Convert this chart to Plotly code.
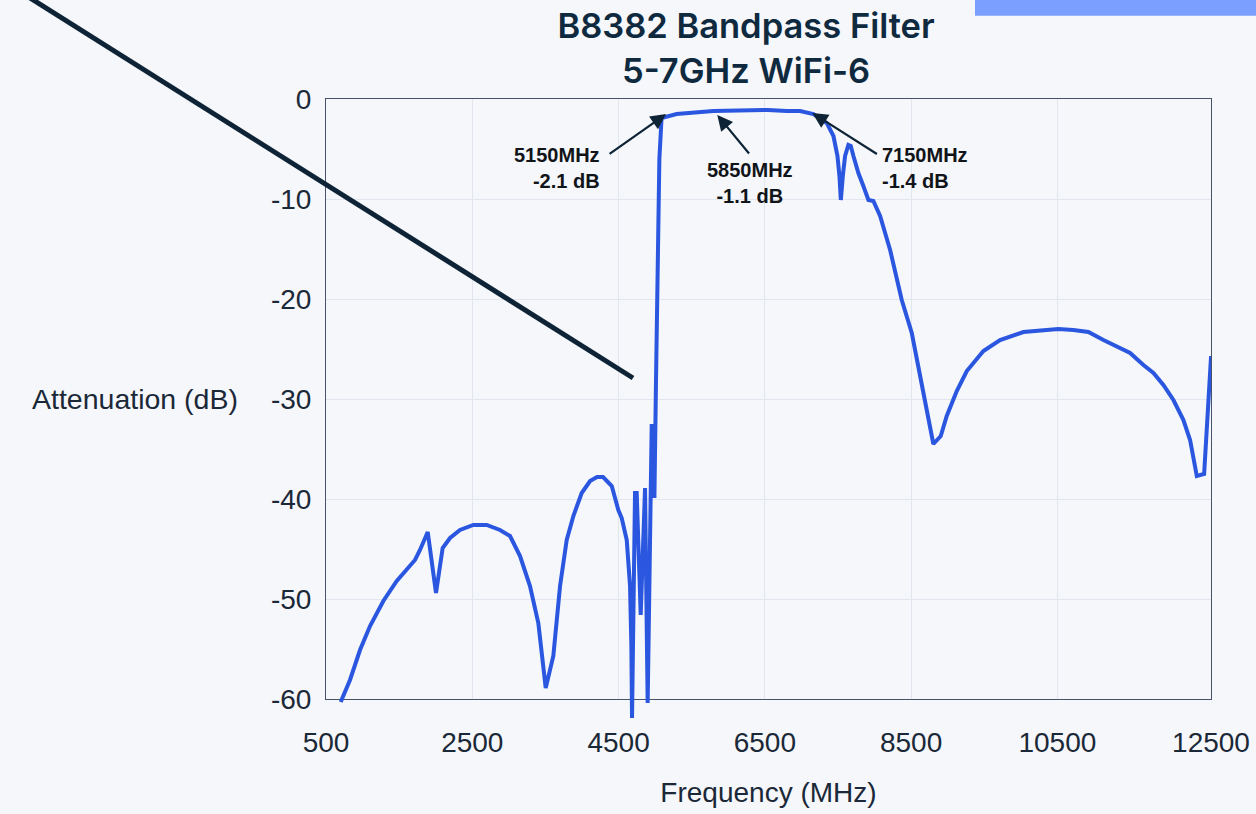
import plotly.graph_objects as go

# ---- data ----
FREQ_MHZ = [701, 828, 965, 1102, 1284, 1467, 1717, 1785, 1891, 2004, 2095, 2196, 2332, 2514,
            2697, 2879, 3016, 3153, 3289, 3403, 3504, 3608, 3700, 3791, 3882, 3996, 4110,
            4206, 4288, 4407, 4497, 4543, 4612, 4657, 4675, 4684, 4725, 4748, 4803, 4862,
            4898, 4953, 4976, 4990, 5012, 5040, 5058, 5088, 5293, 5796, 6296, 6540, 6800,
            6982, 7164, 7347, 7438, 7493, 7520, 7539, 7566, 7597, 7642, 7675, 7711, 7779,
            7847, 7916, 7984, 8076, 8213, 8372, 8509, 8646, 8804, 8905, 8987, 9124, 9261,
            9488, 9716, 10035, 10286, 10513, 10718, 10924, 11129, 11312, 11494, 11676,
            11813, 11949, 12086, 12223, 12314, 12406, 12506, 12601]
ATTEN_DB = [-60.3, -58.1, -55.1, -52.7, -50.2, -48.2, -46.1, -45.1, -43.3, -49.4, -44.9,
            -43.9, -43.1, -42.6, -42.6, -43.1, -43.7, -45.7, -48.7, -52.4, -58.9, -55.7,
            -48.7, -44.1, -41.7, -39.4, -38.2, -37.8, -37.8, -38.7, -41.1, -41.9, -44.1,
            -48.7, -54.7, -61.9, -39.4, -39.4, -51.6, -38.9, -60.4, -32.7, -32.7, -39.9,
            -28.1, -15.0, -6.0, -1.9, -1.5, -1.2, -1.1, -1.1, -1.2, -1.2, -1.5, -2.4, -3.7,
            -5.7, -7.7, -10.1, -7.7, -5.7, -4.6, -4.7, -5.7, -7.4, -8.7, -10.1, -10.2,
            -11.7, -15.1, -20.1, -23.4, -28.4, -34.5, -33.7, -31.7, -29.2, -27.2, -25.2,
            -24.1, -23.3, -23.1, -23.0, -23.1, -23.3, -24.1, -24.7, -25.4, -26.6, -27.4,
            -28.6, -30.1, -32.1, -34.1, -37.7, -37.5, -25.7]

X_TICK_VALS = [500, 2500, 4500, 6500, 8500, 10500, 12600]
X_TICK_TEXT = ["500", "2500", "4500", "6500", "8500", "10500", "12500"]
Y_TICK_VALS = [-60, -50, -40, -30, -20, -10, 0]
Y_TICK_TEXT = ["-60", "-50", "-40", "-30", "-20", "-10", "0"]

MARK_FREQ = [5150, 5850, 7150]
MARK_TIP_DB = [-1.5, -1.6, -1.4]
MARK_LABEL = ["5150MHz<br>-2.1 dB", "5850MHz<br>-1.1 dB", "7150MHz<br>-1.4 dB"]

TITLE = "B8382 Bandpass Filter<br>5-7GHz WiFi-6"
X_TITLE = "Frequency (MHz)"
Y_TITLE = "Attenuation (dB)"

# ---- style ----
BG = "#F5F7FA"
GRID = "#E2E6EE"
FRAME = "#46536A"
LINE = "#2A56E0"
NAVY = "#0E2436"
TXT = "#1B2838"
FONT = "Liberation Sans, Arial, sans-serif"

fig = go.Figure()
fig.add_trace(go.Scatter(x=FREQ_MHZ, y=ATTEN_DB, mode="lines",
                         line=dict(color=LINE, width=4),
                         xaxis="x2", yaxis="y2", showlegend=False, hoverinfo="x+y"))

# arrows + labels
arrow_off = [(-58, 41), (33, 40), (66, 42)]
text_shift = [(-64, -54), (33, -68), (68, -55)]
text_anchor = ["right", "center", "left"]
for f, d, lab, (ax, ay), (sx, sy), anc in zip(MARK_FREQ, MARK_TIP_DB, MARK_LABEL,
                                               arrow_off, text_shift, text_anchor):
    fig.add_annotation(x=f, y=d, xref="x", yref="y", text="", showarrow=True,
                       ax=ax, ay=ay, arrowhead=2, arrowsize=1.4, arrowwidth=2.2,
                       arrowcolor=NAVY)
    fig.add_annotation(x=f, y=d, xref="x", yref="y", text=lab, showarrow=False,
                       xshift=sx, yshift=sy, xanchor=anc, yanchor="middle", align=anc,
                       font=dict(family=FONT, size=20, color="#111418", weight="bold"))

# horizontal y-axis title
fig.add_annotation(x=-0.0972, y=-30, xref="paper", yref="y", text=Y_TITLE,
                   showarrow=False, xanchor="right", yanchor="middle",
                   font=dict(family=FONT, size=28.5, color=TXT))

# decorative elements seen in the reference
fig.add_shape(type="line", xref="paper", yref="paper",
              x0=-0.36836, y0=1.19048, x1=0.34689, y1=0.55714,
              line=dict(color=NAVY, width=5))
fig.add_shape(type="rect", xref="paper", yref="paper",
              x0=0.7333, y0=1.1322, x1=1.06, y1=1.17,
              line=dict(width=0), fillcolor="#7B9FFF")

axis_font = dict(family=FONT, size=28, color=TXT)
fig.update_layout(
    width=1256, height=814,
    margin=dict(l=326, r=45, t=99, b=85, pad=0, autoexpand=False),
    paper_bgcolor=BG, plot_bgcolor="rgba(0,0,0,0)",
    font=dict(family=FONT, color=TXT),
    title=dict(text=TITLE, x=0.594, xanchor="center", y=0.9533, yanchor="middle",
               font=dict(family="Inter, Liberation Sans, sans-serif", size=34.5,
                         color="#0F2A3F", weight=600)),
    xaxis=dict(domain=[0, 1], anchor="y", range=[500, 12600], automargin=False,
               tickvals=X_TICK_VALS, ticktext=X_TICK_TEXT, tickfont=axis_font,
               showgrid=True, gridcolor=GRID, gridwidth=1,
               showline=True, linecolor=FRAME, linewidth=1, mirror=True,
               ticks="", ticklabelstandoff=18, zeroline=False,
               title=dict(text=X_TITLE, font=axis_font, standoff=25)),
    yaxis=dict(domain=[30 / 630, 1], anchor="x", range=[-60, 0], automargin=False,
               tickvals=Y_TICK_VALS, ticktext=Y_TICK_TEXT, tickfont=axis_font,
               showgrid=True, gridcolor=GRID, gridwidth=1,
               showline=True, linecolor=FRAME, linewidth=1, mirror=True,
               ticks="", ticklabelstandoff=8, zeroline=False),
    xaxis2=dict(domain=[0, 1], anchor="y2", range=[500, 12600], visible=False,
                showgrid=False, zeroline=False, automargin=False),
    yaxis2=dict(domain=[0, 1], anchor="x2", range=[-63, 0], visible=False,
                showgrid=False, zeroline=False, automargin=False),
)

fig.write_html("out.html", config={"displayModeBar": False},
               post_script="document.body.style.margin='0';"
                           "document.body.style.background='" + BG + "';")
